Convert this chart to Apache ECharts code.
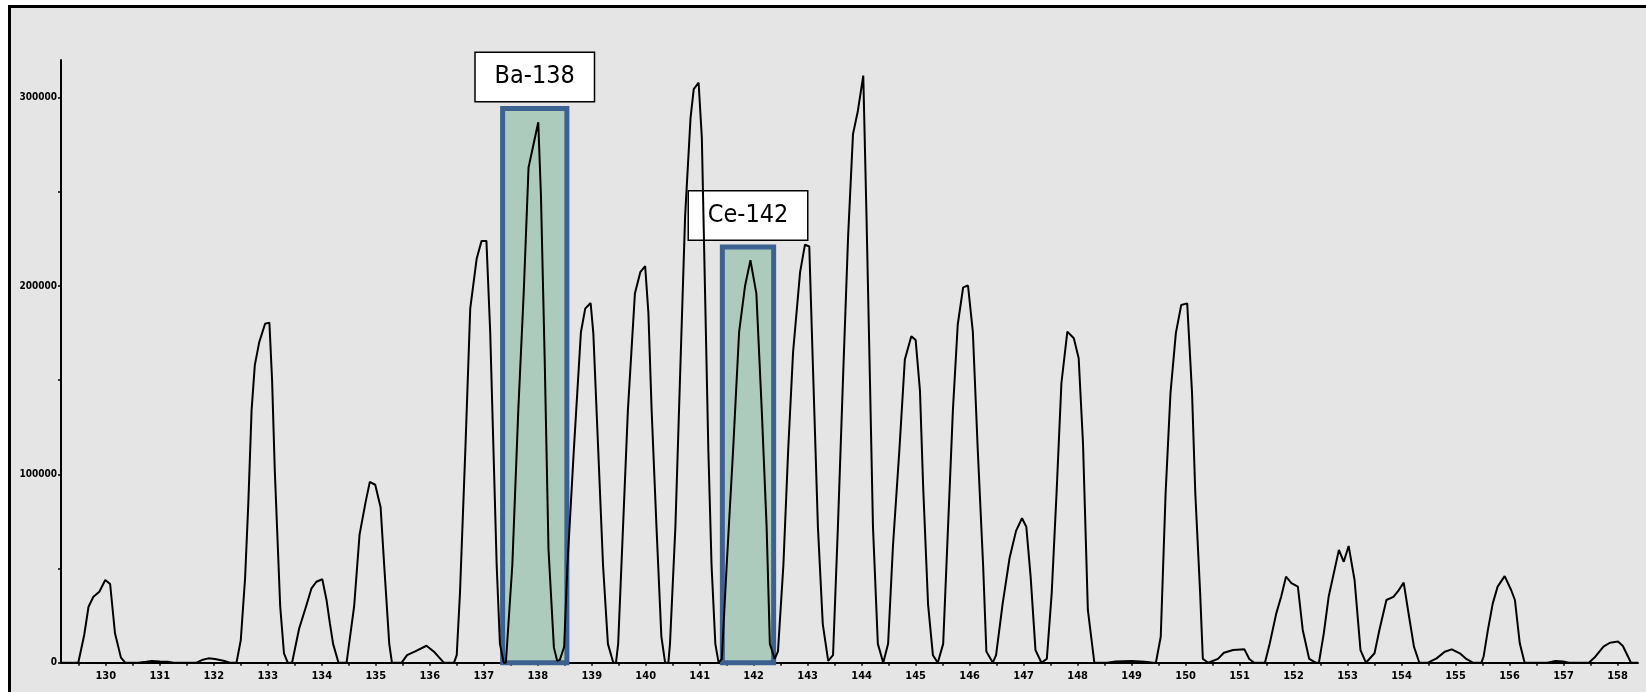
<!DOCTYPE html>
<html>
<head>
<meta charset="utf-8">
<script src="https://cdn.jsdelivr.net/npm/echarts@6/dist/echarts.min.js"></script>
<style>
html,body{margin:0;padding:0;background:#fff;}
#chart{width:1646px;height:692px;}
</style>
</head>
<body>
<div id="chart"></div>
<script>
// ---- axis ranges and tick labels ----
const xMin = 129.17;
const xMax = 158.38;
const yMax = 320000;
const massLabels = [130,131,132,133,134,135,136,137,138,139,140,141,142,143,144,145,146,147,148,149,150,151,152,153,154,155,156,157,158];
const massTicks = [129.5,130,130.5,131,131.5,132,132.5,133,133.5,134,134.5,135,135.5,136,136.5,137,137.5,138,138.5,139,139.5,140,140.5,141,141.5,142,142.5,143,143.5,144,144.5,145,145.5,146,146.5,147,147.5,148,148.5,149,149.5,150,150.5,151,151.5,152,152.5,153,153.5,154,154.5,155,155.5,156,156.5,157,157.5,158];
const intensityTicks = [0,50000,100000,150000,200000,250000,300000];
const intensityLabels = [0,100000,200000,300000];

// ---- spectrum profile, one small array per nominal mass: [m/z, intensity] ----
const p130 = [[129.17,0],[129.49,0],[129.60,14700],[129.68,29700],[129.77,35000],[129.88,37700],[129.99,43900],[130.08,41800],[130.17,15600],[130.28,2700],[130.36,0]];
const p131 = [[130.60,0],[130.75,500],[130.85,900],[131.00,600],[131.15,500],[131.25,0]];
const p132 = [[131.68,0],[131.78,1400],[131.90,2300],[132.02,2000],[132.18,1000],[132.30,0]];
const p133 = [[132.42,0],[132.50,12000],[132.58,45000],[132.64,85000],[132.70,134000],[132.76,158000],[132.84,170000],[132.95,180000],[133.03,180600],[133.08,150000],[133.13,102000],[133.23,30000],[133.30,5000],[133.37,0]];
const p134 = [[133.45,0],[133.58,18000],[133.71,30000],[133.81,39500],[133.90,43000],[134.01,44300],[134.09,33000],[134.15,21000],[134.21,10000],[134.31,0]];
const p135 = [[134.46,0],[134.60,30000],[134.70,68000],[134.81,85000],[134.89,96000],[134.99,94500],[135.09,82500],[135.16,50000],[135.25,10000],[135.30,0]];
const p136 = [[135.48,0],[135.58,4000],[135.73,6000],[135.94,9000],[136.09,5500],[136.26,0],[136.41,0]];
const p137 = [[136.45,0],[136.50,4000],[136.56,37000],[136.66,113500],[136.75,188000],[136.87,214700],[136.96,224000],[137.05,224000],[137.12,175500],[137.18,113500],[137.24,51600],[137.30,10000],[137.37,0]];
const p138 = [[137.41,0],[137.53,52000],[137.64,134000],[137.74,196000],[137.83,263000],[138.01,287000],[138.06,248000],[138.13,160000],[138.20,60000],[138.30,8000],[138.36,1000]];
const p139 = [[138.41,1500],[138.49,8500],[138.55,51600],[138.67,113500],[138.80,175500],[138.88,188000],[138.98,191000],[139.03,175000],[139.12,113500],[139.21,51600],[139.30,10000],[139.40,0]];
const p140 = [[139.45,0],[139.49,10000],[139.58,72000],[139.67,134000],[139.80,196000],[139.90,207400],[139.99,210600],[140.05,185800],[140.11,134000],[140.20,72000],[140.29,14000],[140.36,0]];
const p141 = [[140.42,0],[140.45,10000],[140.55,72000],[140.64,155000],[140.73,237000],[140.83,289000],[140.89,304600],[140.98,308000],[141.04,278800],[141.10,196000],[141.16,113500],[141.22,51600],[141.29,10000],[141.35,0]];
const p142 = [[141.41,2000],[141.50,51600],[141.62,113500],[141.73,175500],[141.84,200000],[141.94,213700],[142.05,196000],[142.15,134000],[142.24,72000],[142.30,10000],[142.39,2000]];
const p143 = [[142.45,6000],[142.55,51600],[142.64,113500],[142.73,165000],[142.86,207400],[142.95,222000],[143.03,221000],[143.10,155000],[143.19,72000],[143.28,20500],[143.38,1000]];
const p144 = [[143.47,4000],[143.56,72000],[143.66,155000],[143.75,227000],[143.84,280800],[143.93,293000],[144.03,311800],[144.09,237000],[144.15,155000],[144.21,72000],[144.30,10000],[144.40,0]];
const p145 = [[144.49,10000],[144.58,62000],[144.70,113500],[144.80,161000],[144.92,173400],[145.00,171400],[145.08,144500],[145.14,92900],[145.23,31000],[145.32,4000],[145.41,0]];
const p146 = [[145.51,10000],[145.60,72000],[145.69,134000],[145.78,179600],[145.88,199300],[145.97,200300],[146.06,175500],[146.15,113500],[146.25,51600],[146.31,6000],[146.43,0]];
const p147 = [[146.49,4000],[146.61,31000],[146.74,55600],[146.86,70000],[146.97,76700],[147.05,72200],[147.13,45700],[147.22,6700],[147.33,0],[147.43,2000]];
const p148 = [[147.52,36800],[147.61,90000],[147.70,148400],[147.81,175800],[147.93,172300],[148.02,161700],[148.10,116500],[148.19,28000],[148.31,0]];
const p149 = [[148.55,0],[148.70,600],[149.00,900],[149.25,500],[149.40,0]];
const p150 = [[149.45,0],[149.54,13800],[149.63,90000],[149.72,143000],[149.82,175000],[149.92,190000],[150.03,190800],[150.12,143000],[150.18,90000],[150.27,36800],[150.32,2000],[150.42,0]];
const p151 = [[150.60,2000],[150.71,5300],[150.88,6700],[151.09,7100],[151.18,2000],[151.27,0]];
const p152 = [[151.47,0],[151.56,10300],[151.68,26200],[151.77,35000],[151.86,45700],[151.96,42200],[152.08,40400],[152.17,17400],[152.29,2000],[152.41,0]];
const p153 = [[152.47,0],[152.56,15600],[152.65,35000],[152.84,59900],[152.93,53600],[153.02,62000],[153.13,43900],[153.24,6700],[153.34,0]];
const p154 = [[153.50,5000],[153.59,17400],[153.72,33300],[153.85,35000],[153.95,38600],[154.04,42500],[154.14,24400],[154.23,8500],[154.33,0]];
const p155 = [[154.49,0],[154.65,2300],[154.80,5800],[154.93,7100],[155.08,5000],[155.20,2000],[155.32,0]];
const p156 = [[155.48,0],[155.52,3200],[155.60,17400],[155.69,31500],[155.78,40400],[155.91,46000],[156.03,38600],[156.10,33300],[156.19,10300],[156.28,0]];
const p157 = [[156.70,0],[156.85,900],[157.00,600],[157.10,0]];
const p158 = [[157.47,0],[157.59,3200],[157.74,8500],[157.86,10600],[158.01,11200],[158.10,8900],[158.25,0],[158.38,0]];

// ---- highlighted isotopes ----
const highlightNames = ['Ba-138','Ce-142'];
const highlightFrom = [137.35,141.42];
const highlightTo = [138.54,142.37];
const highlightTop = [294300,220800];
const highlightBottom = -2300;

const spectrum = [].concat(p130,p131,p132,p133,p134,p135,p136,p137,p138,p139,p140,p141,p142,p143,p144,p145,p146,p147,p148,p149,p150,p151,p152,p153,p154,p155,p156,p157,p158);
const areas = highlightNames.map((n,i)=>[
  {name:n, xAxis:highlightFrom[i], yAxis:highlightBottom},
  {xAxis:highlightTo[i], yAxis:highlightTop[i]}
]);

const narrow = "'Liberation Sans Narrow','Arial Narrow','DejaVu Sans Condensed',sans-serif";
const chart = echarts.init(document.getElementById('chart'), null, {renderer:'canvas'});
chart.setOption({
  animation:false,
  backgroundColor:'#ffffff',
  graphic:[{type:'rect', z:-10, shape:{x:9.5,y:6.5,width:1800,height:900}, style:{fill:'#e5e5e5',stroke:'#000',lineWidth:3}}],
  grid:{left:61,right:8,top:60.1,bottom:29.3,containLabel:false},
  xAxis:{
    type:'value', min:xMin, max:xMax,
    splitLine:{show:false},
    axisLine:{show:true,onZero:false,lineStyle:{color:'#000',width:2}},
    axisTick:{show:true,length:3,customValues:massTicks,lineStyle:{color:'#000',width:1.5}},
    axisLabel:{customValues:massLabels,margin:8,color:'#000',fontFamily:narrow,fontWeight:'bold',fontSize:11,formatter:v=>String(v)}
  },
  yAxis:{
    type:'value', min:0, max:yMax,
    splitLine:{show:false},
    axisLine:{show:true,onZero:false,lineStyle:{color:'#000',width:2}},
    axisTick:{show:true,length:3,customValues:intensityTicks,lineStyle:{color:'#000',width:1.5}},
    axisLabel:{customValues:intensityLabels,margin:4,color:'#000',fontFamily:narrow,fontWeight:'bold',fontSize:10,formatter:v=>String(v)}
  },
  series:[{
    type:'line',
    data:spectrum,
    showSymbol:false,
    clip:false,
    lineStyle:{color:'#000',width:2},
    markArea:{
      z:3,
      silent:true,
      itemStyle:{color:'rgba(69,155,112,0.35)',borderColor:'#3d6190',borderWidth:5},
      label:{
        show:true, position:'top', distance:5,
        color:'#000', fontFamily:narrow, fontSize:25,
        backgroundColor:'#ffffff', borderColor:'#000', borderWidth:1.5,
        width:118, height:48, lineHeight:48, align:'center', padding:0
      },
      data:areas
    }
  }]
});
</script>
</body>
</html>
